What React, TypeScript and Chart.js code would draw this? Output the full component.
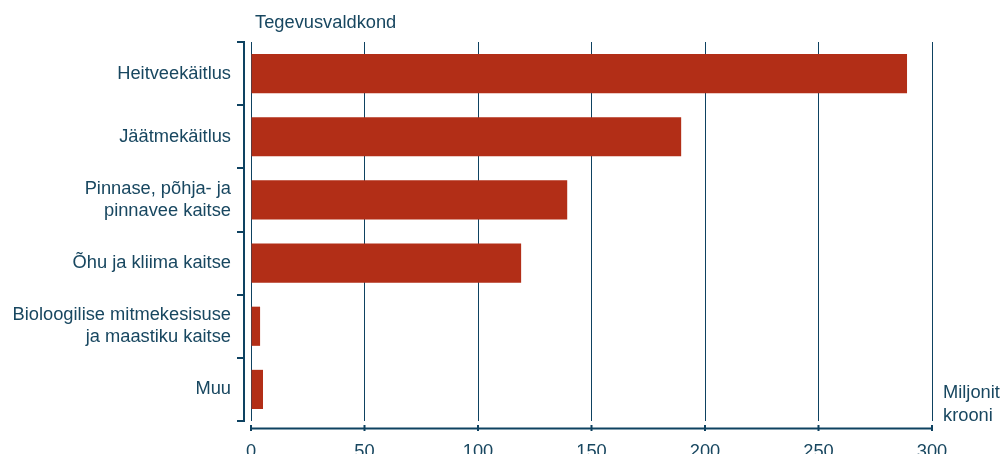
import React, { useEffect, useRef } from "react";
import { Chart, registerables } from "chart.js";

Chart.register(...registerables);

const categories: (string | string[])[] = [
  "Heitveekäitlus",
  "Jäätmekäitlus",
  ["Pinnase, põhja- ja", "pinnavee kaitse"],
  "Õhu ja kliima kaitse",
  ["Bioloogilise mitmekesisuse", "ja maastiku kaitse"],
  "Muu",
];
const values: number[] = [289, 189.5, 139.3, 119, 4, 5.3];
const xTicks: number[] = [0, 50, 100, 150, 200, 250, 300];
const axisTitle = "Tegevusvaldkond";
const unitLines: string[] = ["Miljonit", "krooni"];

const W = 1001;
const H = 454;
const TEXT = "#184760";
const LINE = "#0e4261";
const BAR = "#b22e17";
const FONT = "'Liberation Sans', Arial, sans-serif";
const FS = 18.3;

const overlay = {
  id: "overlay",
  afterDraw(chart: any) {
    const ctx = chart.ctx;
    const area = chart.chartArea;
    const xs = chart.scales.x;
    ctx.save();
    ctx.strokeStyle = LINE;
    ctx.lineWidth = 2;
    // y axis line
    const ax = 244;
    ctx.beginPath();
    ctx.moveTo(ax, area.top);
    ctx.lineTo(ax, area.bottom);
    ctx.stroke();
    const n = categories.length;
    const step = (area.bottom - area.top) / n;
    for (let i = 0; i <= n; i++) {
      const y = Math.round(area.top + i * step);
      ctx.beginPath();
      ctx.moveTo(237, y);
      ctx.lineTo(ax + 1, y);
      ctx.stroke();
    }
    // x axis line
    const ay = 428.5;
    ctx.beginPath();
    ctx.moveTo(xs.getPixelForValue(xTicks[0]) - 1, ay);
    ctx.lineTo(xs.getPixelForValue(xTicks[xTicks.length - 1]) + 1, ay);
    ctx.stroke();
    for (const t of xTicks) {
      const x = xs.getPixelForValue(t);
      ctx.beginPath();
      ctx.moveTo(x, 425);
      ctx.lineTo(x, 431);
      ctx.stroke();
    }
    // texts
    ctx.fillStyle = TEXT;
    ctx.font = `${FS}px ${FONT}`;
    ctx.textBaseline = "alphabetic";
    ctx.textAlign = "left";
    ctx.fillText(axisTitle, 255, 28);
    ctx.fillText(unitLines[0], 943, 398);
    ctx.fillText(unitLines[1], 943, 420.5);
    ctx.restore();
  },
};

export default function App() {
  const ref = useRef<HTMLCanvasElement | null>(null);
  useEffect(() => {
    if (!ref.current) return;
    const chart = new Chart(ref.current, {
      type: "bar",
      data: {
        labels: categories,
        datasets: [
          {
            data: values,
            backgroundColor: BAR,
            borderWidth: 0,
            barPercentage: 0.62,
            categoryPercentage: 1,
          },
        ],
      },
      options: {
        indexAxis: "y",
        animation: false,
        responsive: false,
        maintainAspectRatio: false,
        layout: { padding: { top: 42, right: 69, left: 0, bottom: 0 } },
        plugins: {
          legend: { display: false },
          tooltip: { enabled: false },
          title: { display: false },
        },
        scales: {
          x: {
            type: "linear",
            min: 0,
            max: 300,
            afterBuildTicks: (s: any) => {
              s.ticks = xTicks.map((v) => ({ value: v }));
            },
            ticks: {
              color: TEXT,
              font: { family: FONT, size: FS },
              padding: 19.5,
              maxRotation: 0,
            },
            grid: { color: LINE, lineWidth: 1, drawTicks: false },
            border: { display: false },
            afterFit: (s: any) => {
              s.height = H - 421;
            },
          },
          y: {
            type: "category",
            offset: true,
            grid: { display: false, drawTicks: false },
            border: { display: false },
            ticks: {
              color: TEXT,
              font: { family: FONT, size: FS, lineHeight: 1.2 },
              padding: 20,
              autoSkip: false,
            },
            afterFit: (s: any) => {
              s.width = 251;
            },
          },
        },
      },
      plugins: [overlay],
    });
    return () => chart.destroy();
  }, []);
  return (
    <div style={{ position: "absolute", left: 0, top: 0, width: W, height: H, overflow: "hidden", background: "#fff" }}>
      <canvas ref={ref} width={W} height={H} style={{ width: W, height: H, display: "block" }} />
    </div>
  );
}
